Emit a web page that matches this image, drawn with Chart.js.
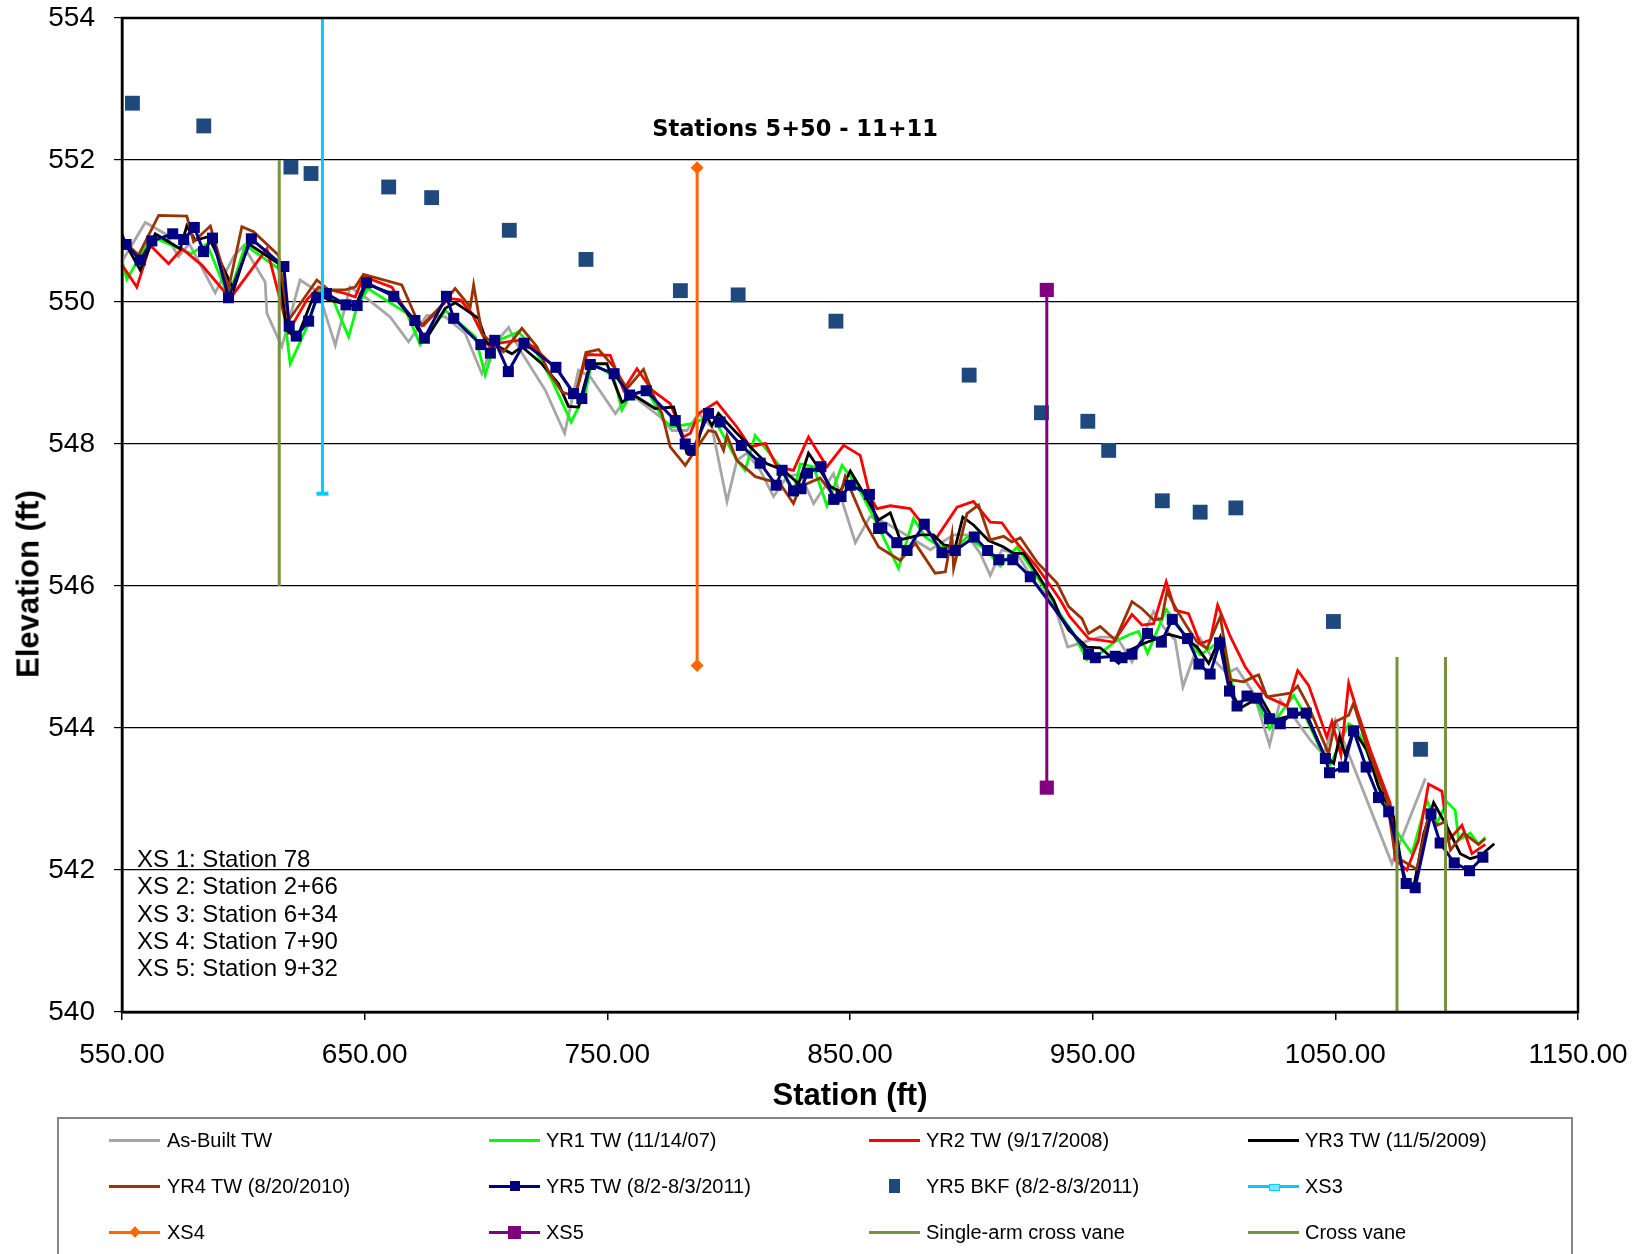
<!DOCTYPE html>
<html>
<head>
<meta charset="utf-8">
<script src="https://cdn.jsdelivr.net/npm/chart.js@4.4.1/dist/chart.umd.min.js"></script>
<style>
  html, body { margin: 0; padding: 0; background: #fff; }
  #wrap { position: relative; width: 1646px; height: 1254px; overflow: hidden;
          font-family: "Liberation Sans", Arial, sans-serif; color: #000; }
  #chart { position: absolute; left: 0; top: 0; }
  #ytitle { position: absolute; left: 28px; top: 584px; transform: translate(-50%, -50%) rotate(-90deg);
            font-weight: bold; font-size: 31px; line-height: 1; white-space: nowrap; }
  #title { position: absolute; left: 795px; top: 117px; transform: translateX(-50%);
           font-family: "DejaVu Sans", sans-serif; font-weight: bold; font-size: 22.5px; line-height: 22px; white-space: nowrap; }
  #xsnotes { position: absolute; left: 137px; top: 845px; font-size: 24px; line-height: 27.3px; white-space: nowrap; }
  #legendBox { position: absolute; left: 57px; top: 1117px; width: 1516px; height: 170px;
               border: 2px solid #868686; box-sizing: border-box; }
  .lg-line { position: absolute; height: 3px; width: 51px; }
  .lg-mark { position: absolute; }
  .lg-text { position: absolute; font-size: 20px; line-height: 24px; white-space: nowrap; }
</style>
</head>
<body>
<div id="wrap">
  <canvas id="chart" width="1646" height="1254"></canvas>
  <div id="ytitle">Elevation (ft)</div>
  <div id="title">Stations 5+50 - 11+11</div>
  <div id="xsnotes">XS 1: Station 78<br>XS 2: Station 2+66<br>XS 3: Station 6+34<br>XS 4: Station 7+90<br>XS 5: Station 9+32</div>
  <div id="legendBox"></div>
</div>
<script>
// Thalweg profiles: [station (ft), elevation (ft)]
const asBuiltTW = [
  [550.0,550.57],[559.6,551.12],[567.8,550.96],[573.3,550.64],[577.7,550.82],[588.4,550.13],[596.0,550.64],
  [600.1,550.79],[609.0,550.28],[609.7,549.84],[615.9,549.37],[623.4,550.31],[631.0,550.14],[637.9,549.39],
  [644.0,550.21],[650.2,550.07],[660.5,549.79],[668.1,549.44],[675.6,549.81],[683.2,549.79],[691.4,549.56],
  [698.3,548.99],[702.4,549.37],[709.3,549.64],[714.1,549.32],[724.4,548.76],[732.4,548.15],[738.1,549.04],
  [742.9,548.95],[753.3,548.43],[759.4,548.71],[771.8,548.38],[776.6,548.19],[782.8,548.19],[787.6,548.43],
  [793.1,548.24],[799.3,547.19],[803.4,547.77],[807.5,547.87],[813.0,547.63],[818.5,547.26],[824.0,547.54],
  [829.5,547.58],[835.0,547.16],[843.2,547.58],[852.2,546.61],[858.3,546.98],[865.2,546.88],[872.1,546.74],
  [883.1,546.51],[892.7,546.72],[898.2,546.72],[903.7,546.46],[907.8,546.15],[912.6,546.51],[918.8,546.46],
  [925.6,546.08],[933.9,545.76],[939.7,545.14],[946.3,545.21],[953.1,545.28],[960.0,545.28],[966.2,544.93],
  [975.1,545.64],[979.2,545.42],[984.0,545.24],[987.2,544.58],[994.3,545.26],[999.8,544.96],[1005.3,544.77],
  [1009.4,544.84],[1016.3,544.49],[1022.9,543.76],[1027.3,544.39],[1032.8,544.16],[1039.7,543.83],
  [1045.2,543.62],[1050.0,544.11],[1073.3,542.09],[1078.1,542.51],[1087.1,543.29]
];
const yr1TW = [
  [550.0,550.58],[552.0,550.32],[557.5,550.64],[562.3,550.92],[571.9,550.78],[578.5,550.68],[585.0,550.82],
  [593.9,550.07],[600.8,550.80],[614.5,550.47],[619.3,549.13],[626.9,549.70],[631.0,550.17],[636.5,550.07],
  [643.4,549.51],[646.8,549.93],[651.3,550.19],[667.4,549.84],[672.9,549.40],[683.2,549.88],[695.6,549.51],
  [699.7,548.97],[703.8,549.44],[713.4,549.58],[720.3,549.32],[727.1,548.90],[735.1,548.31],[740.9,548.71],
  [743.5,549.15],[752.6,548.95],[756.0,548.48],[759.4,548.69],[766.3,548.76],[773.2,548.34],[776.6,548.24],
  [785.5,548.29],[793.1,548.41],[803.4,547.77],[806.8,547.63],[810.9,548.12],[821.2,547.68],[826.7,547.30],
  [829.5,547.72],[835.0,547.68],[840.5,547.13],[846.7,547.70],[852.9,547.42],[859.7,546.97],[870.0,546.25],
  [876.2,546.95],[881.0,546.69],[887.2,546.55],[894.1,546.55],[898.2,546.69],[906.4,546.50],[911.9,546.28],
  [918.8,546.55],[924.3,546.27],[932.5,545.85],[936.6,545.60],[942.1,545.33],[947.6,544.96],[953.1,545.05],
  [959.3,545.22],[965.5,545.32],[968.9,545.36],[972.6,545.05],[980.3,545.67],[984.7,545.47],[988.8,545.26],
  [994.3,545.03],[1001.2,545.19],[1005.3,545.00],[1009.4,544.28],[1013.6,544.44],[1017.7,544.37],
  [1022.9,543.99],[1027.3,544.20],[1032.8,544.46],[1036.9,544.22],[1045.9,543.55],[1047.9,543.48],
  [1055.5,544.06],[1058.9,543.99],[1064.4,543.55],[1069.9,542.94],[1074.0,542.61],[1081.6,542.23],
  [1087.7,542.98],[1091.9,542.66],[1096.0,542.96],[1099.4,542.84],[1100.8,542.42],[1105.6,542.52],
  [1109.0,542.36],[1111.8,542.46]
];
const yr2TW = [
  [550.0,550.52],[556.1,550.21],[561.6,550.80],[569.2,550.54],[574.7,550.75],[582.9,550.52],[594.6,550.05],
  [609.7,550.75],[618.6,549.58],[626.2,550.03],[631.0,550.21],[642.0,550.12],[646.1,550.07],[649.5,550.36],
  [661.2,550.21],[668.1,549.81],[674.3,549.67],[684.6,550.05],[689.4,550.03],[694.2,549.84],[699.7,549.46],
  [701.7,549.36],[705.2,549.42],[713.4,549.46],[719.6,549.37],[729.9,549.02],[736.8,548.69],[741.5,549.26],
  [751.2,549.25],[756.7,548.76],[762.2,549.06],[768.4,548.76],[775.9,548.57],[781.4,548.10],[784.2,548.15],
  [787.6,548.43],[795.1,548.59],[803.4,548.24],[808.9,547.96],[815.1,548.01],[819.9,547.68],[826.7,547.63],
  [832.9,548.10],[840.5,547.68],[847.4,547.98],[854.2,547.84],[858.3,547.26],[861.1,547.09],[866.6,547.13],
  [874.8,547.09],[885.1,546.65],[894.1,547.11],[900.9,547.19],[907.8,546.90],[912.6,546.89],[916.7,546.69],
  [927.0,546.27],[933.9,545.94],[936.7,545.80],[940.5,545.57],[948.3,545.26],[958.6,545.21],[966.2,545.60],
  [970.3,545.45],[975.1,545.47],[980.3,546.06],[984.0,545.66],[989.5,545.61],[994.3,545.19],[998.5,545.24],
  [1001.5,545.73],[1006.7,545.29],[1012.9,544.86],[1017.7,544.63],[1021.8,544.44],[1030.1,544.31],
  [1034.5,544.81],[1039.0,544.60],[1046.5,543.87],[1048.6,544.09],[1052.3,543.62],[1055.5,544.63],
  [1058.9,544.25],[1064.4,543.69],[1072.6,542.94],[1074.7,542.14],[1079.5,542.00],[1084.3,542.42],
  [1088.4,543.21],[1093.9,543.11],[1096.7,542.42],[1102.2,542.63],[1106.3,542.23],[1111.8,542.36]
];
const yr3TW = [
  [550.0,550.91],[557.5,550.45],[563.7,550.96],[574.0,550.75],[576.7,551.07],[580.2,550.87],[585.7,550.92],
  [596.0,550.17],[602.1,550.82],[614.5,550.54],[617.9,549.60],[622.1,549.49],[629.6,550.14],[635.1,550.03],
  [646.1,549.94],[650.2,550.26],[661.2,550.12],[668.8,549.79],[675.0,549.46],[683.2,549.91],[687.3,549.99],
  [696.9,549.77],[700.4,549.42],[705.2,549.37],[710.7,549.27],[714.8,549.37],[723.0,549.13],[729.9,548.85],
  [734.0,548.53],[738.1,548.52],[742.9,549.13],[749.8,549.13],[756.0,548.59],[760.8,548.69],[769.7,548.50],
  [777.3,548.52],[782.8,547.87],[786.2,547.87],[790.3,548.43],[793.1,548.26],[795.8,548.43],[803.4,548.15],
  [815.8,547.72],[822.6,547.63],[828.8,547.44],[832.9,547.87],[837.7,547.63],[841.9,547.40],[846.0,547.33],
  [850.1,547.62],[854.9,547.35],[861.8,546.93],[866.6,547.03],[870.7,546.65],[878.9,546.72],[884.4,546.72],
  [888.6,546.58],[893.4,546.55],[896.5,546.97],[900.9,546.86],[907.1,546.64],[913.3,546.55],[917.4,546.46],
  [921.5,546.46],[927.0,546.18],[933.9,545.80],[936.7,545.57],[940.1,545.38],[947.6,545.14],[953.1,545.13],
  [960.7,544.91],[965.5,545.10],[971.0,545.19],[981.3,545.32],[988.8,545.25],[993.0,545.14],[997.8,544.91],
  [1002.6,545.28],[1008.1,544.44],[1010.8,544.28],[1019.1,544.44],[1024.6,544.11],[1032.8,544.18],
  [1037.6,544.20],[1045.2,543.64],[1049.3,543.50],[1051.8,543.88],[1054.1,543.62],[1057.5,543.97],
  [1063.0,543.69],[1067.8,543.17],[1074.0,542.75],[1078.1,541.90],[1082.3,541.76],[1086.4,542.51],
  [1090.5,542.95],[1096.0,542.61],[1101.5,542.23],[1105.6,542.16],[1109.7,542.20],[1115.5,542.37]
];
const yr4TW = [
  [550.0,550.88],[556.8,550.66],[565.1,551.22],[576.7,551.21],[579.5,550.85],[586.4,551.07],[593.9,550.19],
  [599.4,551.06],[604.2,550.99],[614.5,550.66],[618.6,549.74],[630.3,550.31],[635.1,550.17],[642.0,550.17],
  [646.1,550.21],[649.5,550.39],[665.3,550.24],[670.8,549.81],[673.6,549.67],[682.5,549.98],[687.3,550.19],
  [693.5,549.93],[694.9,550.24],[698.3,549.56],[702.4,549.42],[707.2,549.30],[714.8,549.63],[721.0,549.37],
  [725.8,549.02],[731.3,548.73],[736.8,548.67],[741.2,549.29],[746.4,549.33],[752.6,549.09],[758.1,548.78],
  [764.9,549.05],[769.0,548.69],[772.5,548.43],[775.9,547.96],[782.1,547.70],[787.6,547.98],[791.7,548.19],
  [794.5,548.17],[797.9,547.91],[799.3,548.12],[803.4,547.77],[811.0,547.54],[821.2,547.44],[826.7,547.16],
  [829.5,547.40],[837.7,547.52],[845.3,547.19],[848.0,547.54],[855.6,546.93],[861.8,546.55],[870.7,546.36],
  [876.9,546.60],[885.1,546.18],[889.3,546.20],[892.0,546.72],[892.7,546.25],[898.2,547.02],[903.0,547.14],
  [907.8,546.65],[913.3,546.70],[916.7,546.62],[920.2,546.68],[927.0,546.34],[935.3,546.04],[940.1,545.71],
  [945.6,545.54],[948.3,545.33],[953.1,545.43],[959.3,545.24],[966.2,545.78],[970.3,545.68],[975.1,545.52],
  [978.5,545.54],[980.6,545.92],[984.7,545.66],[988.8,545.43],[993.0,545.21],[997.1,545.12],[1002.6,545.57],
  [1006.7,544.68],[1012.2,544.65],[1016.3,544.72],[1018.4,544.75],[1021.8,544.44],[1031.4,544.49],
  [1034.5,544.59],[1039.0,544.30],[1047.2,543.64],[1050.0,544.09],[1055.5,544.18],[1057.5,544.35],
  [1063.0,543.73],[1071.3,542.98],[1074.7,542.19],[1083.6,542.01],[1088.4,542.77],[1091.9,542.63],
  [1095.3,542.68],[1097.4,542.28],[1102.9,542.52],[1109.0,542.36],[1111.8,542.44]
];
const yr5TW = [
  [549.0,551.03],[551.7,550.81],[557.5,550.59],[562.3,550.86],[570.9,550.96],[575.4,550.88],[579.8,551.05],
  [583.6,550.71],[587.3,550.90],[593.9,550.06],[603.3,550.89],[616.7,550.50],[618.9,549.66],[621.8,549.52],
  [626.9,549.73],[630.3,550.06],[634.2,550.12],[642.3,549.96],[646.9,549.95],[650.8,550.27],[662.0,550.08],
  [670.7,549.74],[674.6,549.49],[683.7,550.08],[686.7,549.77],[697.9,549.40],[701.8,549.28],[703.6,549.46],
  [709.2,549.02],[715.7,549.42],[728.8,549.08],[736.1,548.71],[739.5,548.64],[743.0,549.12],[752.8,548.99],
  [759.2,548.69],[766.0,548.75],[778.0,548.33],[782.1,548.00],[785.2,547.91],[791.7,548.43],[796.5,548.31],
  [805.2,547.98],[813.0,547.73],[819.6,547.42],[822.0,547.63],[826.7,547.34],[829.8,547.37],[832.5,547.59],
  [838.0,547.68],[843.3,547.22],[846.3,547.26],[850.1,547.42],[858.0,547.29],[861.8,546.81],[863.1,546.82],
  [869.3,546.61],[873.5,546.50],[880.6,546.87],[887.9,546.47],[893.4,546.50],[901.2,546.69],[906.7,546.50],
  [911.3,546.37],[917.1,546.37],[924.3,546.13],[948.3,545.04],[951.1,544.99],[959.3,545.01],[962.1,544.99],
  [966.2,545.04],[972.6,545.33],[978.3,545.21],[982.8,545.53],[989.1,545.26],[993.8,544.90],[998.4,544.76],
  [1002.3,545.20],[1006.4,544.52],[1009.5,544.31],[1013.6,544.45],[1017.7,544.42],[1022.9,544.13],
  [1027.3,544.06],[1032.4,544.21],[1038.0,544.21],[1045.9,543.57],[1047.6,543.37],[1053.4,543.45],
  [1057.5,543.96],[1062.7,543.45],[1067.8,543.02],[1072.0,542.82],[1079.2,541.81],[1082.9,541.75],
  [1089.4,542.79],[1093.2,542.38],[1099.0,542.10],[1105.3,541.99],[1110.8,542.18]
];
// Bankfull elevations, year 5
const yr5BKF = [
  [554.3,552.80],[583.7,552.48],[619.6,551.90],[627.9,551.81],[659.9,551.62],[677.6,551.47],[709.6,551.01],
  [741.2,550.60],[780.1,550.16],[803.9,550.10],[844.2,549.73],[899.1,548.97],[928.9,548.44],[948.0,548.32],
  [956.6,547.91],[978.7,547.20],[994.3,547.04],[1009.0,547.10],[1049.2,545.50],[1085.1,543.70]
];
// Cross-section locations and structures
const xs3 = [[632.6,554.3],[632.6,547.30]];
const xs4 = [[787.0,551.89],[787.0,544.88]];
const xs5 = [[931.1,550.17],[931.1,543.16]];
const singleArmVane = [[614.8,552.0],[614.8,546.0]];
const crossVane = [[1075.4,545.0],[1075.4,540.0],[1085.0,null],[1095.4,545.0],[1095.4,540.0]];

const xTicksMin = 550, xTicksMax = 1150, xStep = 100;
const yTicksMin = 540, yTicksMax = 554, yStep = 2;

const pts = arr => arr.map(p => ({x: p[0], y: p[1]}));
const FONT = "'Liberation Sans', Arial, sans-serif";

const COLORS = {
  asBuilt: '#A6A6A6', yr1: '#00FF00', yr2: '#FF0000', yr3: '#000000', yr4: '#993300',
  yr5: '#000080', bkf: '#1F497D', xs3: '#00CCFF', xs4: '#FF6600', xs5: '#800080', vane: '#77933C'
};

function lineSet(label, data, color, extra) {
  return Object.assign({
    label, data: pts(data), showLine: true, borderColor: color, backgroundColor: color,
    borderWidth: 2.8, pointRadius: 0, pointHoverRadius: 0, tension: 0, clip: 0, spanGaps: false
  }, extra || {});
}

const datasets = [
  lineSet('As-Built TW', asBuiltTW, COLORS.asBuilt),
  lineSet('YR1 TW (11/14/07)', yr1TW, COLORS.yr1),
  lineSet('YR2 TW (9/17/2008)', yr2TW, COLORS.yr2),
  lineSet('YR3 TW (11/5/2009)', yr3TW, COLORS.yr3),
  lineSet('YR4 TW (8/20/2010)', yr4TW, COLORS.yr4),
  lineSet('YR5 TW (8/2-8/3/2011)', yr5TW, COLORS.yr5, {
    borderWidth: 3, pointStyle: 'rect',
    pointRadius: c => (c.raw && c.raw.x < xTicksMin ? 0 : 7.8),
    pointBorderWidth: 0
  }),
  {
    label: 'YR5 BKF (8/2-8/3/2011)', data: pts(yr5BKF), showLine: false,
    pointStyle: 'rect', pointRadius: 10.5, pointBorderWidth: 0,
    backgroundColor: COLORS.bkf, borderColor: COLORS.bkf, clip: 0
  },
  lineSet('XS3', xs3, COLORS.xs3, { borderWidth: 3, pointStyle: 'line', pointRadius: 6, pointBorderWidth: 4 }),
  lineSet('XS4', xs4, COLORS.xs4, { borderWidth: 3, pointStyle: 'rectRot', pointRadius: 6.5, pointBorderWidth: 0 }),
  lineSet('XS5', xs5, COLORS.xs5, { borderWidth: 3, pointStyle: 'rect', pointRadius: 10, pointBorderWidth: 0 }),
  lineSet('Single-arm cross vane', singleArmVane, COLORS.vane, { borderWidth: 3 }),
  lineSet('Cross vane', crossVane, COLORS.vane, { borderWidth: 3 })
];
// later series sit on top of earlier ones
datasets.forEach((d, i) => { d.order = datasets.length - i; });

const plotFrame = {
  id: 'plotFrame',
  afterDatasetsDraw(chart) {
    const {ctx, chartArea: a} = chart;
    ctx.save();
    ctx.strokeStyle = '#000';
    ctx.lineWidth = 2.5;
    ctx.strokeRect(a.left, a.top, a.right - a.left, a.bottom - a.top);
    ctx.restore();
  }
};

new Chart(document.getElementById('chart'), {
  type: 'scatter',
  data: { datasets },
  options: {
    responsive: false, animation: false, devicePixelRatio: 1,
    layout: { padding: { left: 0, top: 18, right: 68, bottom: 139 } },
    plugins: { legend: { display: false }, tooltip: { enabled: false }, title: { display: false } },
    scales: {
      x: {
        type: 'linear', min: xTicksMin, max: xTicksMax,
        afterFit(scale) { scale.height = 103; scale.paddingLeft = 0; scale.paddingRight = 0; },
        ticks: { stepSize: xStep, padding: 18, color: '#000', font: { family: FONT, size: 28 },
                 callback: v => Number(v).toFixed(2), maxRotation: 0, autoSkip: false },
        grid: { drawOnChartArea: false, drawTicks: true, tickLength: 8, color: '#000', lineWidth: 1.5 },
        border: { display: true, color: '#000', width: 2.5 },
        title: { display: true, text: 'Station (ft)', color: '#000',
                 font: { family: FONT, size: 31, weight: 'bold' }, padding: { top: 0, bottom: 0 } }
      },
      y: {
        type: 'linear', min: yTicksMin, max: yTicksMax,
        afterFit(scale) { scale.width = 122; scale.paddingTop = 0; scale.paddingBottom = 0; },
        ticks: { stepSize: yStep, padding: 19, color: '#000', font: { family: FONT, size: 28 } },
        grid: { color: '#000', lineWidth: 1.2, drawTicks: true, tickLength: 8 },
        border: { display: true, color: '#000', width: 2.5 },
        title: { display: false }
      }
    }
  },
  plugins: [plotFrame]
});

// Legend laid out in a fixed four-column grid
const legendCols = { line: [109, 489, 869, 1248], text: [167, 546, 926, 1305] };
const legendRows = [1140, 1186, 1232];
const legendItems = [
  { label: 'As-Built TW', color: COLORS.asBuilt, line: true },
  { label: 'YR1 TW (11/14/07)', color: COLORS.yr1, line: true },
  { label: 'YR2 TW (9/17/2008)', color: COLORS.yr2, line: true },
  { label: 'YR3 TW (11/5/2009)', color: COLORS.yr3, line: true },
  { label: 'YR4 TW (8/20/2010)', color: COLORS.yr4, line: true },
  { label: 'YR5 TW (8/2-8/3/2011)', color: COLORS.yr5, line: true, mark: { w: 10, h: 10 } },
  { label: 'YR5 BKF (8/2-8/3/2011)', color: COLORS.bkf, line: false, mark: { w: 11, h: 14 } },
  { label: 'XS3', color: COLORS.xs3, line: true, mark: { w: 9, h: 5, fill: '#7FE5FF' } },
  { label: 'XS4', color: COLORS.xs4, line: true, mark: { w: 8, h: 8, rot: true } },
  { label: 'XS5', color: COLORS.xs5, line: true, mark: { w: 13, h: 13 } },
  { label: 'Single-arm cross vane', color: COLORS.vane, line: true },
  { label: 'Cross vane', color: COLORS.vane, line: true }
];
const wrap = document.getElementById('wrap');
legendItems.forEach((it, i) => {
  const col = i % 4, row = Math.floor(i / 4);
  const lx = legendCols.line[col], cy = legendRows[row];
  if (it.line) {
    const ln = document.createElement('div');
    ln.className = 'lg-line';
    ln.style.left = lx + 'px';
    ln.style.top = (cy - 1.5) + 'px';
    ln.style.background = it.color;
    wrap.appendChild(ln);
  }
  if (it.mark) {
    const m = document.createElement('div');
    m.className = 'lg-mark';
    m.style.width = it.mark.w + 'px';
    m.style.height = it.mark.h + 'px';
    m.style.left = (lx + 25.5 - it.mark.w / 2) + 'px';
    m.style.top = (cy - it.mark.h / 2) + 'px';
    m.style.background = it.mark.fill || it.color;
    if (it.mark.fill) m.style.border = '1px solid ' + it.color;
    if (it.mark.rot) m.style.transform = 'rotate(45deg)';
    wrap.appendChild(m);
  }
  const t = document.createElement('div');
  t.className = 'lg-text';
  t.textContent = it.label;
  t.style.left = legendCols.text[col] + 'px';
  t.style.top = (cy - 11.7) + 'px';
  wrap.appendChild(t);
});
</script>
</body>
</html>
